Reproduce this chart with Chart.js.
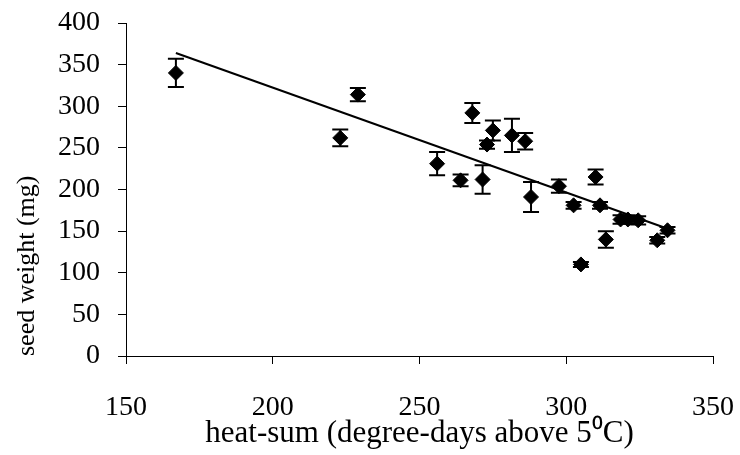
<!DOCTYPE html>
<html>
<head>
<meta charset="utf-8">
<script src="https://cdn.jsdelivr.net/npm/chart.js@4"></script>
<style>
html,body{margin:0;padding:0;background:#fff}
#wrap{width:740px;height:455px;position:relative}
</style>
</head>
<body>
<div id="wrap"><canvas id="chart"></canvas></div>
<script>
// heat-sum (degree-days above 5C) and mean seed weight (mg), with +/- error
const heatSum    = [167, 223, 229, 256, 264, 268, 271.5, 273, 275, 281.5, 286, 288, 297.5, 302.5, 305, 310, 311.5, 313.5, 318.5, 321, 324.5, 331, 334.5];
const seedWeight = [340, 262, 314, 231, 211, 292, 212, 254, 271, 265, 258, 191, 204, 181, 110, 215, 181, 140, 164, 164, 163, 139, 151];
const seedErr    = [17, 10, 8, 14, 7, 12, 17, 5, 12, 20, 10, 18, 8, 4, 3, 9, 4, 10, 5, 5, 5, 4, 4];

// fitted trend line at its two ends
const trendX = [167, 336];
const trendY = [364, 151];

const xTicks = [150, 200, 250, 300, 350];
const yTicks = [0, 50, 100, 150, 200, 250, 300, 350, 400];

const FONT = "'Liberation Serif', 'Times New Roman', serif";

const errorBars = {
  id: 'errorBars',
  beforeDatasetsDraw(chart){
    const {ctx, scales:{x, y}} = chart;
    ctx.save();
    ctx.strokeStyle = '#000';
    ctx.lineWidth = 2;
    heatSum.forEach((h, i)=>{
      const px = x.getPixelForValue(h);
      const top = y.getPixelForValue(seedWeight[i] + seedErr[i]);
      const bot = y.getPixelForValue(seedWeight[i] - seedErr[i]);
      ctx.beginPath();
      ctx.moveTo(px, top); ctx.lineTo(px, bot);
      ctx.moveTo(px-8, top); ctx.lineTo(px+8, top);
      ctx.moveTo(px-8, bot); ctx.lineTo(px+8, bot);
      ctx.stroke();
    });
    ctx.restore();
  }
};

const points = heatSum.map((h, i)=>({x:h, y:seedWeight[i]}));
const trend = trendX.map((h, i)=>({x:h, y:trendY[i]}));

new Chart(document.getElementById('chart'), {
  type: 'scatter',
  data: {
    datasets: [
      {label:'trend', type:'line', data:trend, borderColor:'#000', borderWidth:2, pointRadius:0, fill:false, order:2},
      {label:'seed weight', data:points, pointStyle:'rectRot', pointRadius:7.5, pointHoverRadius:7.5,
       backgroundColor:'#000', borderColor:'#000', borderWidth:1, order:1}
    ]
  },
  options: {
    responsive: true,
    maintainAspectRatio: false,
    animation: false,
    layout: {padding:{left:0, right:27, top:23, bottom:0}},
    plugins: {legend:{display:false}, tooltip:{enabled:false}},
    scales: {
      x: {
        type: 'linear', min: 150, max: 350,
        afterBuildTicks(s){ s.ticks = xTicks.map(v=>({value:v})); },
        afterFit(s){ s.height = 99; s.paddingLeft = 0; s.paddingRight = 0; },
        ticks: {color:'#000', font:{family:FONT, size:28}, padding:27, maxRotation:0},
        grid: {drawOnChartArea:false, tickLength:8, color:'#000'},
        border: {color:'#000', width:1},
        title: {display:true, text:'heat-sum (degree-days above 5\u2070C)', color:'#000',
                font:{family:FONT, size:31}, padding:{top:0, bottom:3}}
      },
      y: {
        type: 'linear', min: 0, max: 400,
        afterBuildTicks(s){ s.ticks = yTicks.map(v=>({value:v})); },
        afterFit(s){ s.width = 126; s.paddingTop = 0; s.paddingBottom = 0; },
        ticks: {color:'#000', font:{family:FONT, size:28}, padding:18},
        grid: {drawOnChartArea:false, tickLength:8, color:'#000'},
        border: {color:'#000', width:1},
        title: {display:true, text:'seed weight (mg)', color:'#000', align:'start',
                font:{family:FONT, size:26}, padding:{top:12, bottom:0}}
      }
    }
  },
  plugins: [errorBars]
});
</script>
</body>
</html>
